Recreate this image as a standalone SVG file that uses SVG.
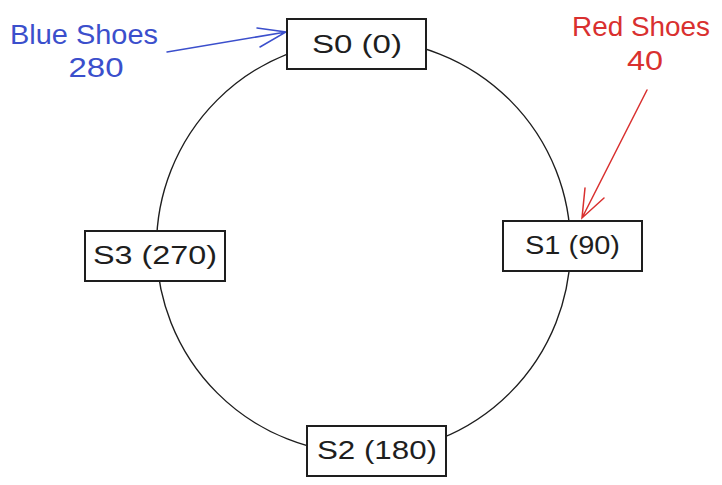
<svg xmlns="http://www.w3.org/2000/svg" width="722" height="485" viewBox="0 0 722 485">
<style>
  .ring{fill:none;stroke:#1e1e1e;stroke-width:1.4}
  .box{fill:#ffffff;stroke:#1e1e1e;stroke-width:2}
  .lbl{font-family:"Liberation Sans",Arial,sans-serif;font-size:26px;fill:#1e1e1e;text-anchor:middle}
  .note{font-family:"Liberation Sans",Arial,sans-serif;font-size:28px;text-anchor:middle}
  .blue{fill:#3b4fcc}
  .red{fill:#d9302f}
  .arrB{fill:none;stroke:#3b4fcc;stroke-width:1.5;stroke-linecap:round}
  .arrR{fill:none;stroke:#d9302f;stroke-width:1.5;stroke-linecap:round}
</style>
<rect width="722" height="485" fill="#ffffff"/>
<g id="connectors">
  <circle class="ring" cx="363.5" cy="246.5" r="207"/>
  <path class="arrB" d="M167 52 L286 32 M257 28 L286 32 L260 47"/>
  <path class="arrR" d="M647 90 L582 218 M585 188 L582 218 L604 198"/>
</g>
<g id="S0">
  <rect class="box" x="287" y="19" width="139" height="50"/>
  <text class="lbl" x="357" y="53" textLength="90" lengthAdjust="spacingAndGlyphs">S0 (0)</text>
</g>
<g id="S1">
  <rect class="box" x="503" y="221" width="139" height="50"/>
  <text class="lbl" x="572.5" y="254" textLength="95" lengthAdjust="spacingAndGlyphs">S1 (90)</text>
</g>
<g id="S2">
  <rect class="box" x="307" y="426" width="139" height="50"/>
  <text class="lbl" x="377" y="459" textLength="120" lengthAdjust="spacingAndGlyphs">S2 (180)</text>
</g>
<g id="S3">
  <rect class="box" x="85" y="231" width="140" height="50"/>
  <text class="lbl" x="155" y="264" textLength="124" lengthAdjust="spacingAndGlyphs">S3 (270)</text>
</g>
<g id="blue-shoes">
  <text class="note blue" x="84" y="44" textLength="148" lengthAdjust="spacingAndGlyphs">Blue Shoes</text>
  <text class="note blue" x="96" y="77" textLength="55" lengthAdjust="spacingAndGlyphs">280</text>
</g>
<g id="red-shoes">
  <text class="note red" x="641" y="36" textLength="138" lengthAdjust="spacingAndGlyphs">Red Shoes</text>
  <text class="note red" x="645" y="70" textLength="36" lengthAdjust="spacingAndGlyphs">40</text>
</g>
</svg>
